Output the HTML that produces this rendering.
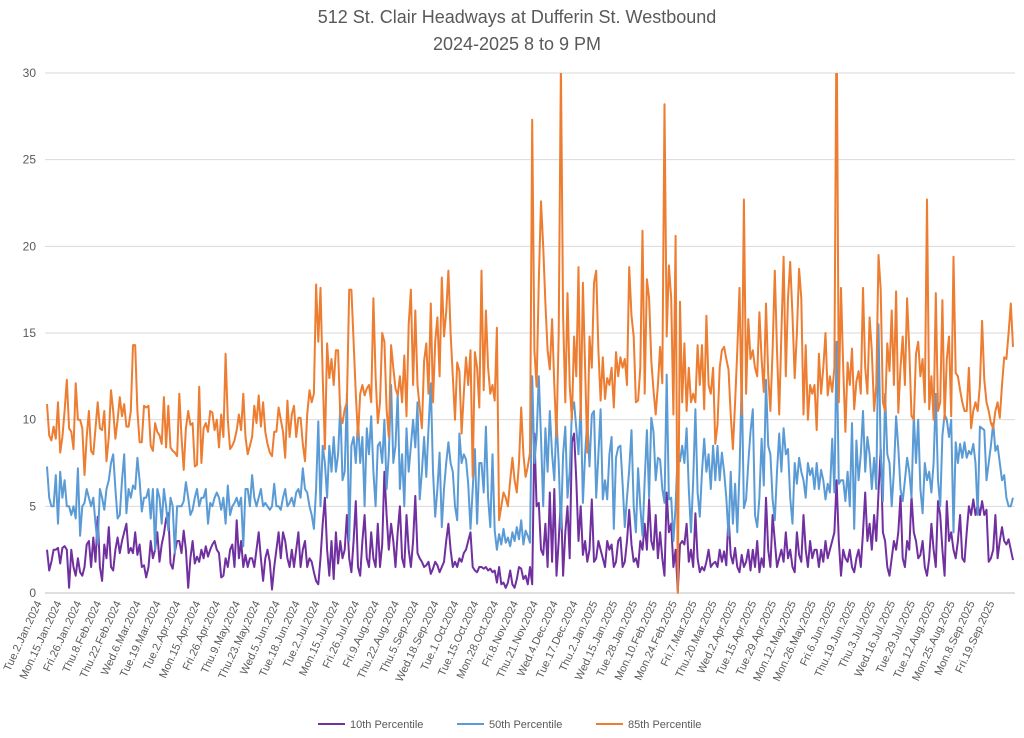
<!DOCTYPE html>
<html><head><meta charset="utf-8"><style>
html,body{margin:0;padding:0;background:#fff;}
svg{display:block;font-family:"Liberation Sans",sans-serif;}
</style></head><body>
<svg id="chart" width="1024" height="738" viewBox="0 0 1024 738">
<text x="517" y="23" text-anchor="middle" font-size="18" fill="#595959">512 St. Clair Headways at Dufferin St. Westbound</text>
<text x="517" y="50" text-anchor="middle" font-size="18" fill="#595959">2024-2025 8 to 9 PM</text>
<g id="grid"></g>
<g id="yticks"></g>
<g id="xticks"></g>
<defs><clipPath id="plotclip"><rect x="0" y="73" width="1024" height="530"/></clipPath></defs>
<g id="series" clip-path="url(#plotclip)"></g>
<g id="legend"></g>
</svg>
<script>
const xLabels = ["Tue.2.Jan.2024","Mon.15.Jan.2024","Fri.26.Jan.2024","Thu.8.Feb.2024","Thu.22.Feb.2024","Wed.6.Mar.2024","Tue.19.Mar.2024","Tue.2.Apr.2024","Mon.15.Apr.2024","Fri.26.Apr.2024","Thu.9.May.2024","Thu.23.May.2024","Wed.5.Jun.2024","Tue.18.Jun.2024","Tue.2.Jul.2024","Mon.15.Jul.2024","Fri.26.Jul.2024","Fri.9.Aug.2024","Thu.22.Aug.2024","Thu.5.Sep.2024","Wed.18.Sep.2024","Tue.1.Oct.2024","Tue.15.Oct.2024","Mon.28.Oct.2024","Fri.8.Nov.2024","Thu.21.Nov.2024","Wed.4.Dec.2024","Tue.17.Dec.2024","Thu.2.Jan.2025","Wed.15.Jan.2025","Tue.28.Jan.2025","Mon.10.Feb.2025","Mon.24.Feb.2025","Fri.7.Mar.2025","Thu.20.Mar.2025","Wed.2.Apr.2025","Tue.15.Apr.2025","Tue.29.Apr.2025","Mon.12.May.2025","Mon.26.May.2025","Fri.6.Jun.2025","Thu.19.Jun.2025","Thu.3.Jul.2025","Wed.16.Jul.2025","Tue.29.Jul.2025","Tue.12.Aug.2025","Mon.25.Aug.2025","Mon.8.Sep.2025","Fri.19.Sep.2025"];
const labelEvery = 9;
const yTicks = [0,5,10,15,20,25,30];
const p85 = [10.9,9.1,8.8,9.6,8.9,11.0,8.1,9.0,10.5,12.3,
9.5,9.3,8.3,12.1,10.0,10.0,9.5,6.8,9.0,10.5,
8.2,8.0,9.5,11.0,9.5,9.4,10.5,7.6,9.0,11.7,
10.5,8.9,10.0,11.3,10.2,10.9,9.6,9.6,10.5,14.3,
14.3,10.5,8.7,8.7,10.8,10.7,10.8,8.5,8.2,9.8,
9.3,9.1,8.6,11.3,8.4,10.8,8.4,8.2,8.1,7.9,
11.5,9.0,7.1,9.5,10.5,9.7,9.8,7.3,7.4,11.9,
7.5,9.5,9.8,9.3,10.5,10.4,9.4,10.0,8.4,10.3,
9.0,13.8,10.0,8.3,8.5,8.8,9.4,10.3,9.4,11.5,
9.0,8.0,8.5,9.0,10.8,9.8,11.4,9.6,11.0,9.3,
8.6,8.1,7.9,9.3,9.3,10.7,10.0,9.3,7.8,11.1,
9.0,10.3,10.8,9.0,10.1,10.1,8.6,7.6,10.3,11.7,
11.0,11.5,17.8,14.5,17.6,12.5,8.3,14.4,12.4,13.5,
12.0,14.0,14.0,10.2,9.8,10.6,11.0,17.5,17.5,14.5,
11.5,9.0,11.5,12.0,11.4,11.8,12.0,11.0,17.0,12.5,
9.8,11.0,15.0,14.5,10.6,9.0,14.3,13.0,11.8,11.4,
12.5,11.0,13.7,10.2,15.5,17.5,12.0,
16.3,12.0,10.7,9.5,13.4,14.4,11.5,16.7,11.0,14.5,15.9,12.5,18.2,14.8,16.2,
18.6,15.0,12.5,10.0,13.3,12.8,9.2,11.5,13.6,12.0,14.0,6.7,13.9,13.0,10.7,
18.6,11.7,16.3,13.0,11.5,12.0,11.1,15.3,4.2,5.0,5.8,5.5,5.0,6.5,7.8,
6.5,5.8,7.5,10.7,8.0,6.7,7.3,8.1,
27.3,14.0,11.9,18.0,22.6,20.0,16.7,14.0,12.9,15.8,12.0,9.0,15.0,
30.5,16.0,11.0,17.3,12.0,10.0,14.8,12.5,18.8,10.0,17.9,13.0,8.1,14.8,13.0,17.9,
18.6,14.0,11.1,13.6,11.2,12.4,12.0,13.0,
10.7,13.9,12.5,13.6,13.0,13.5,12.0,18.8,16,14.8,11,11.1,13,20.9,11.5,18.1,
17,13.4,11.7,10.3,12,14.2,12.1,28.2,14.8,18.9,17,10.3,20.6,0,
16.8,11,14.4,10.5,13,11,11.5,11,14.3,12,14.3,10.6,16,12,11.5,13,
8.6,9.7,13,14,14.2,13.5,12.9,10.3,8.3,11,14,17.6,10.3,22.7,11.5,15.8,
13.5,14,13,12.5,16.2,13.5,11.6,16.7,12.6,10.5,14,18.6,14,10.3,15,
19.4,12.5,17,19.1,16,12.4,15,18.7,17,10.3,14.3,10,12,11.5,12,
9.4,13.8,11.5,13,15,11.4,12.5,11.6,13,
34,
11,17.6,13,9.3,13.3,12,14.1,10.6,12.2,12.8,11.5,17.6,13,11.5,15.9,
14,10.5,12,19.5,17.5,11,10.5,14.4,12.8,16.3,12,17.4,10.4,13,14.8,
12,17,14,10.2,10,13.8,14.5,12.5,13.5,11,22.7,10.6,12.5,10,17.3,
10.5,11,16.9,10,13.5,14.8,10.2,19.4,12.7,12.5,11.7,11,10.5,10.5,13,
9.5,10.5,11,10.5,12,15.7,12.3,11,10.5,9.8,9.5,10.5,11,10.1,12,13.6,13.5,15,16.7,14.2];
const p50 = [7.3,5.5,5.0,5.0,6.8,4.0,7.0,5.5,6.5,5.0,
5.0,4.5,5.0,4.3,7.2,3.3,5.0,5.2,6.0,5.5,
5.0,5.5,4.0,2.8,6.0,5.5,4.8,6.0,6.5,7.5,
8.0,6.0,4.3,4.5,6.5,8.0,4.6,6.0,5.5,6.2,
6.0,7.8,6.5,4.7,5.5,5.5,6.0,4.3,6.0,2.5,
6.0,5.5,4.0,6.0,5.0,3.6,5.5,5.0,2.3,5.0,
5.0,5.0,5.3,6.4,5.5,4.5,4.8,5.5,6.0,5.0,
5.5,5.5,6.0,4.0,5.2,5.0,5.5,5.8,5.5,4.8,
5.5,4.0,6.2,4.5,5.0,5.2,5.5,5.0,5.5,2.7,
6.0,6.0,5.0,6.8,5.5,5.0,5.5,6.0,5.0,5.2,
5.0,4.8,5.0,6.3,5.0,5.0,4.8,5.5,6.0,5.0,
5.2,5.5,5.0,5.8,6.0,5.5,7.2,6.0,5.8,5.0,
4.5,3.7,
6.0,9.9,5.0,8.5,7.5,5.5,8.5,7.0,9.0,7.0,
8.0,10.8,6.5,7.0,11.5,3.0,8.5,9.0,7.5,10.0,
7.5,9.0,5.0,9.5,8.0,10.2,7.0,5.0,8.5,8.7,
7.5,10.0,6.0,8.0,12.0,7.5,8.5,11.5,6.0,8.0,
5.0,9.5,7.0,8.5,10.0,
8.4,11.0,5.4,7.0,9.0,6.7,9.5,12.1,7.0,4.4,6.0,8.1,3.8,6.0,7.5,
8.7,7.5,7.0,5.0,4.2,9.2,7.5,8.0,7.7,6.3,3.7,6.0,8.3,4.0,7.5,
7.5,5.8,9.6,5.5,3.8,8.0,3.6,2.5,3.4,2.8,3.7,2.9,3.2,2.7,3.5,3.0,3.8,3.1,4.2,2.8,3.6,3.3,2.9,
12.5,7.5,9.0,12.5,9.0,5.0,9.5,7.0,10.5,8.0,6.5,10.0,7.5,
3.7,8.0,9.6,5.5,7.0,10.5,11.0,9.5,8.0,11.0,5.2,8.0,10.0,7.3,10.3,10.5,5.5,8.0,10.6,5.4,6.5,5.4,8.0,9.0,
3.7,7.8,8.4,8.5,6.3,3.8,5.5,7.1,9.4,5.0,3.5,7.2,5.0,3.3,6.5,9.4,
5.5,10.1,9.3,6.5,7.8,7.7,6.0,5.2,12.6,5.4,5.5,3.0,5.0,8.3,7.6,
8.5,7.5,9.5,6.0,3.5,6.5,10.6,5.8,4.4,7.0,8.9,7.0,8.0,6.0,8.5,
6.5,8.5,6.5,8.1,7.0,5.5,3.3,7.0,4.0,6.3,3.5,7.0,12.3,4.9,5.4,7.5,
9.3,10.6,4.5,3.8,5.5,8.9,6.2,12.3,8.5,8.0,5.4,4.2,7.0,9.2,7.0,
9.5,8.0,8.3,5.5,4.0,7.5,6.3,7.8,7.0,6.5,5.5,7.5,6.8,7.2,6.0,
7.5,6.0,7.1,6.5,5.4,6.3,5.8,8.9,5.8,
14.5,
6.3,6.5,6.5,5.3,7.0,5.0,9.8,3.7,8.8,6.5,8.0,10.5,7.0,9.0,8.0,
6.0,7.8,6.0,15.5,8.0,5.3,11.5,8.0,7.5,5.0,7.0,10.2,8.4,6.0,5.3,
6.5,7.8,7.0,5.5,10.3,7.5,10.0,6.0,4.6,7.5,6.5,7.0,5.8,7.5,11.5,
6.5,5.0,9.1,10.3,10.0,9.0,10.0,3.5,8.7,7.5,8.6,7.8,8.7,7.8,8.2,
8.0,8.6,7.5,4.5,9.6,9.5,9.4,6.5,7.5,8.5,9.8,8.2,8.5,7.5,6.5,6.8,5.5,5.0,5.0,5.5];
const p10 = [2.5,1.3,1.8,2.5,2.5,2.6,1.7,2.6,2.7,2.5,
0.3,2.5,1.5,1.0,2.0,1.2,1.0,1.5,2.8,3.0,
1.5,3.2,1.8,4.4,1.5,0.7,2.8,2.0,3.8,1.5,
1.3,2.5,3.2,2.3,3.0,3.5,4.0,2.3,2.6,2.3,
3.5,2.2,2.8,1.5,1.6,0.9,1.5,3.0,2.0,2.5,
3.5,1.8,2.8,3.4,4.3,4.6,1.7,1.4,2.4,3.0,
3.0,2.3,3.6,2.5,0.3,2.0,3.0,1.7,2.1,1.8,
2.5,2.0,2.7,2.1,2.5,2.8,3.0,2.5,2.3,0.9,
1.0,2.0,1.5,2.5,2.8,1.5,4.2,2.0,3.0,1.5,
2.2,1.5,2.0,2.0,1.5,2.5,3.5,2.0,0.7,2.0,
2.5,1.8,0.2,1.5,2.5,3.5,2.0,3.5,3.0,2.0,
1.5,2.5,1.5,2.5,3.5,1.5,2.5,3.0,1.5,2.0,
1.8,1.2,0.7,0.5,2.0,4.0,5.5,2.5,1.0,3.0,
0.8,3.5,1.7,3.0,2.0,2.5,4.5,2.0,1.2,3.0,
5.3,1.5,1.0,3.0,4.5,2.0,1.5,3.5,2.0,1.5,
4.0,1.5,2.8,7.0,4.5,2.5,4.0,3.0,1.5,3.5,
5.0,2.0,1.5,4.5,2.5,1.5,3.0,
5.6,2.3,2.0,1.8,1.5,1.6,1.8,1.1,1.4,1.8,1.6,1.2,1.5,1.8,3.0,
4.0,2.5,1.5,1.8,1.5,2.0,1.8,2.3,2.5,3.0,3.5,1.5,1.3,1.2,1.5,
1.5,1.4,1.5,1.3,1.4,1.2,1.3,0.6,1.5,0.5,0.6,0.3,0.6,1.3,0.5,0.3,0.8,1.5,1.4,0.8,1.0,0.5,1.5,
0.5,9.2,5.0,5.2,2.5,2.2,4.0,1.5,5.8,1.8,6.0,1.0,3.0,
5.5,1.0,3.5,5.0,2.0,8.7,9.2,6.5,3.0,5.0,2.2,3.0,1.8,2.5,5.4,1.8,2.0,3.0,2.5,2.0,1.5,3.0,2.5,2.8,
1.5,1.8,3.0,3.2,1.5,1.8,3.0,4.8,2.8,1.8,2.0,1.5,3.0,2.5,4.0,2.5,
5.4,3.0,2.5,4.5,2.0,3.5,2.0,1.0,5.8,3.5,4.0,1.5,2.5,0.1,2.8,
3.0,2.8,4.0,1.8,2.5,1.5,4.6,2.0,1.2,1.5,1.3,1.8,2.5,1.5,1.7,
1.8,1.5,2.5,1.8,2.4,1.6,4.5,2.2,1.7,2.6,1.5,1.2,2.2,1.5,1.8,2.5,
1.3,2.5,1.5,3.0,1.2,2.0,1.5,5.5,2.5,1.5,4.5,3.0,1.5,2.0,2.5,
1.8,3.5,2.0,2.5,1.5,1.2,3.5,2.2,1.8,4.5,2.5,1.5,3.0,2.0,2.5,
2.5,1.5,2.5,1.8,3.0,2.0,2.5,3.0,3.5,
6.5,
3.0,1.0,2.5,2.0,1.8,2.5,1.5,1.2,2.0,2.5,1.5,3.5,5.8,3.0,4.0,
2.5,4.5,3.0,5.8,8.3,3.5,3.0,1.5,1.0,2.0,3.0,2.5,3.5,5.6,2.0,
1.5,3.0,2.5,5.6,3.5,3.0,2.0,2.2,3.0,1.5,1.0,2.0,4.0,2.5,1.5,
5.3,4.5,2.5,1.0,5.3,3.0,3.5,2.5,2.0,3.0,4.5,2.0,1.8,3.5,5.0,
4.5,5.4,4.5,5.1,4.5,5.3,4.5,4.8,1.8,2.0,2.5,4.5,2.0,3.0,3.8,3.0,2.8,3.1,2.5,1.9];

const NS='http://www.w3.org/2000/svg';
const X0=47, X1=1013, Y0=593, Y30=73, GL=45, GR=1015;
const N=Math.max(p85.length,p50.length,p10.length);
function xs(i){return X0+i*(X1-X0)/(N-1);}
function ys(v){return Y0-(v/30)*(Y0-Y30);}
function mk(tag,attrs,parent){const e=document.createElementNS(NS,tag);for(const k in attrs)e.setAttribute(k,attrs[k]);parent.appendChild(e);return e;}

const grid=document.getElementById('grid'), yt=document.getElementById('yticks');
yTicks.forEach(t=>{
  const l=mk('line',{x1:GL,x2:GR,y1:ys(t),y2:ys(t),stroke:t===0?'#bfbfbf':'#d9d9d9','stroke-width':1},grid);
  
  
  const tx=mk('text',{x:36,y:ys(t)+4,'text-anchor':'end','font-size':12,fill:'#595959'},yt);
  tx.textContent=t;
  
  
});
const xt=document.getElementById('xticks');
xLabels.forEach((lab,k)=>{
  const x=xs(k*labelEvery)-5, y=603;
  const tx=mk('text',{x:x,y:y,'text-anchor':'end','font-size':11,fill:'#595959',transform:`rotate(-65 ${x} ${y})`},xt);
  tx.textContent=lab;
  
  
});
const ser=document.getElementById('series');
const series=[{d:p10,c:'#7030A0',n:'series-10th-percentile'},{d:p50,c:'#5B9BD5',n:'series-50th-percentile'},{d:p85,c:'#ED7D31',n:'series-85th-percentile'}];
series.forEach(s=>{
  const pts=s.d.map((v,i)=>xs(i).toFixed(1)+','+ys(v).toFixed(1)).join(' ');
  const pl=mk('polyline',{points:pts,fill:'none',stroke:s.c,'stroke-width':2,'stroke-linejoin':'round'},ser);
  
  
});
const lg=document.getElementById('legend');
[['10th Percentile','#7030A0',318],['50th Percentile','#5B9BD5',457],['85th Percentile','#ED7D31',596]].forEach(([t,c,x])=>{
  const l=mk('line',{x1:x,x2:x+27,y1:724,y2:724,stroke:c,'stroke-width':2},lg);
  
  
  const tx=mk('text',{x:x+32,y:728,'font-size':11,fill:'#595959'},lg);
  tx.textContent=t;
  
  
});
</script>
</body></html>
